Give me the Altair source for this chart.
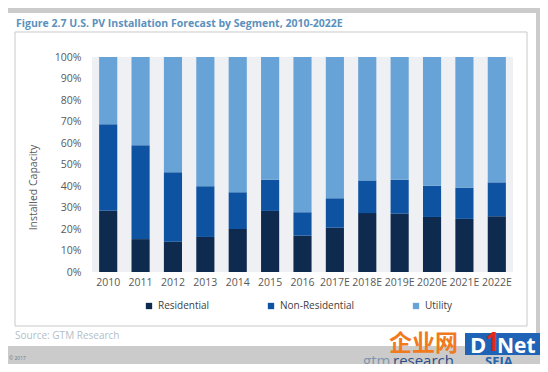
import altair as alt
import pandas as pd

years = ["2010", "2011", "2012", "2013", "2014", "2015", "2016",
         "2017E", "2018E", "2019E", "2020E", "2021E", "2022E"]
segments = ["Residential", "Non-Residential", "Utility"]
seg_colors = ["#0e2b4f", "#0e53a2", "#67a3d6"]

residential = [28.5, 15.3, 14.1, 16.3, 20.0, 28.4, 16.9, 20.6, 27.4, 27.1, 25.6, 24.7, 25.9]
non_residential = [40.2, 43.7, 32.3, 23.6, 17.1, 14.5, 10.9, 13.7, 15.2, 15.8, 14.5, 14.5, 15.8]
utility = [round(100 - r - n, 1) for r, n in zip(residential, non_residential)]

rows = []
for i, y in enumerate(years):
    for k, (seg, vals) in enumerate(zip(segments, [residential, non_residential, utility])):
        rows.append({"year": y, "segment": seg, "value": vals[i], "ord": k})
df = pd.DataFrame(rows)

W, H = 421, 215
FONT = "Open Sans"
one = alt.Data(values=[{"a": 1}])


def box(x1, x2, y1, y2, **kw):
    return alt.Chart(one).mark_rect(**kw).encode(
        x=alt.value(x1), x2=alt.value(x2), y=alt.value(y1), y2=alt.value(y2))


def label(text, x, y, **kw):
    return alt.Chart(one).mark_text(text=text, font=FONT, **kw).encode(
        x=alt.value(x), y=alt.value(y))


card = box(-84, 444, -44, 289, fill="white")
frame = box(-77, 435, -25, 269, fill="white", stroke="#c9c9c9", strokeWidth=1)
plotbg = box(0, W, 0, H, fill="#eff0f3")

bars = alt.Chart(df).mark_bar().encode(
    x=alt.X("year:N", sort=years,
            scale=alt.Scale(paddingInner=0.44, paddingOuter=0.22),
            axis=alt.Axis(title=None, labelAngle=0, domain=False, ticks=False,
                          labelPadding=5, labelFontSize=10.5, labelFont=FONT,
                          labelColor="#595959", grid=False, zindex=2)),
    y=alt.Y("value:Q", stack="zero",
            scale=alt.Scale(domain=[0, 100], nice=False),
            axis=alt.Axis(title="Installed Capacity", values=list(range(0, 101, 10)),
                          labelExpr="datum.value + '%'", domain=False, ticks=False,
                          grid=False, labelPadding=11, labelFontSize=10.5, labelFont=FONT,
                          labelColor="#595959", titleFont=FONT, titleFontSize=10.5,
                          titleFontWeight="normal", titleColor="#595959",
                          titleX=-59, titleY=130, titleBaseline="middle", titleAngle=-90,
                          zindex=2)),
    color=alt.Color("segment:N", sort=segments,
                    scale=alt.Scale(domain=segments, range=seg_colors),
                    legend=alt.Legend(title=None, orient="none", legendX=52, legendY=244,
                                      direction="horizontal", symbolType="square",
                                      symbolSize=40, symbolStrokeWidth=0, labelFontSize=10,
                                      labelFont=FONT, labelColor="#404040",
                                      columnPadding=56, labelOffset=4, padding=0,
                                      zindex=2)),
    order=alt.Order("ord:Q"),
)

title = label("Figure 2.7 U.S. PV Installation Forecast by Segment, 2010-2022E",
              -76, -30, align="left", baseline="alphabetic", fontSize=10.5,
              fontWeight="bold", color="#5b91bd")
source = label("Source: GTM Research", -77, 279, align="left", baseline="middle",
               fontSize=10, color="#b3bec7")
copy = label("© 2017", -83, 301, align="left", baseline="middle", fontSize=5,
             color="#6f7780")

wm_cjk = alt.Chart(one).mark_text(text="企业网", font="Noto Sans CJK SC", fontSize=23,
                                  fontWeight="bold", color="#f07a1c", align="left",
                                  baseline="middle").encode(x=alt.value(297), y=alt.value(287))
wm_box = box(373, 451, 276, 298, fill="#1e63b6")
wm_d = label("D", 378, 296, align="left", baseline="alphabetic", fontSize=22,
             fontWeight="bold", color="white")
wm_1 = label("1", 393, 294, align="left", baseline="alphabetic", fontSize=26,
             fontWeight="bold", color="#e0281e")
wm_net = label("Net", 405, 296, align="left", baseline="alphabetic", fontSize=21,
               fontWeight="bold", color="white")
wm_gtm = label("gtm", 271, 309, align="left", baseline="alphabetic", fontSize=15,
               color="#8096ae")
wm_res = label("research", 301, 309, align="left", baseline="alphabetic", fontSize=15,
               color="#2d4f86")
wm_seia = label("SEIA", 393, 309, align="left", baseline="alphabetic", fontSize=13,
                fontWeight="bold", color="#2464ad")

chart = alt.layer(
    card, frame, plotbg, bars, title, source, copy,
    wm_cjk, wm_box, wm_d, wm_1, wm_net, wm_gtm, wm_res, wm_seia,
).properties(
    width=W, height=H,
    autosize=alt.AutoSizeParams(type="none"),
    padding={"left": 84, "top": 49, "right": 27, "bottom": 92},
).configure(background="#cbcbcb").configure_view(stroke=None)

chart.save("out.html", embed_options={"renderer": "svg", "actions": False})
